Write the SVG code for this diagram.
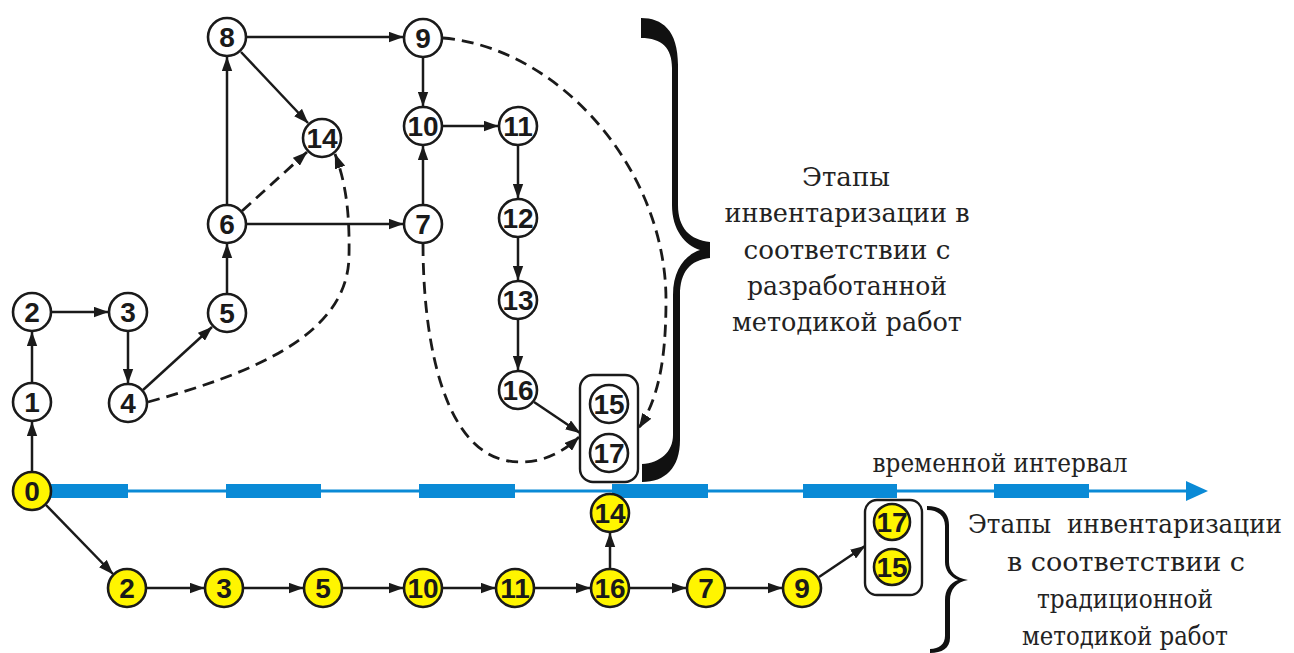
<svg xmlns="http://www.w3.org/2000/svg" width="1294" height="653" viewBox="0 0 1294 653">
  <style>
    .nd circle { fill: #ffffff; stroke: #1a1a1a; stroke-width: 2.6; }
    .nd.y circle { fill: #fff500; }
    .nd text { font-family: "Liberation Sans", Arial, sans-serif; font-weight: bold; font-size: 28px; fill: #1a1a1a; text-anchor: middle; }
    .grp { fill: #ffffff; stroke: #1a1a1a; stroke-width: 2.4; }
    .grp.y { fill: none; }
    .e { fill: none; stroke: #1a1a1a; stroke-width: 2.5; marker-end: url(#ah); }
    .d { stroke-width: 2.8; stroke-dasharray: 12 7; }
    .lbl { font-family: "DejaVu Serif", "Liberation Serif", serif; font-size: 26px; fill: #222222; text-anchor: middle; }
    .axis { stroke: #0a8ad6; }
    .bar { fill: #0a8ad6; }
    .brace { fill: #111111; }
  </style>
  <defs>
    <marker id="ah" viewBox="0 0 14 10" refX="13.5" refY="5" markerWidth="15" markerHeight="11" markerUnits="userSpaceOnUse" orient="auto">
      <path d="M0,0 L14,5 L0,10 z" fill="#1a1a1a"/>
    </marker>
  </defs>

  <!-- time axis -->
  <g id="axis">
    <line class="axis" x1="45" y1="491" x2="1190" y2="491" stroke-width="3"/>
    <rect class="bar" x="50" y="484" width="78" height="14"/>
    <rect class="bar" x="226" y="484" width="95" height="14"/>
    <rect class="bar" x="419" y="484" width="96" height="14"/>
    <rect class="bar" x="612" y="484" width="96" height="14"/>
    <rect class="bar" x="803" y="484" width="94" height="14"/>
    <rect class="bar" x="994" y="484" width="95" height="14"/>
    <polygon class="bar" points="1186,481 1208,491 1186,501"/>
  </g>

  <!-- connectors -->
  <g id="connectors">
    <!-- upper network -->
    <line class="e" x1="32" y1="471" x2="32" y2="422"/>
    <line class="e" x1="32" y1="382" x2="32" y2="332"/>
    <line class="e" x1="52" y1="312" x2="108" y2="312"/>
    <line class="e" x1="128" y1="332" x2="128" y2="383"/>
    <line class="e" x1="143" y1="390" x2="212" y2="327"/>
    <line class="e" x1="227" y1="293" x2="227" y2="244"/>
    <line class="e" x1="227" y1="204" x2="227" y2="57"/>
    <line class="e" x1="247" y1="37" x2="403" y2="37"/>
    <line class="e" x1="241" y1="52" x2="308" y2="123"/>
    <line class="e d" x1="242" y1="211" x2="307" y2="152"/>
    <line class="e" x1="247" y1="224" x2="403" y2="224"/>
    <line class="e" x1="423" y1="57" x2="423" y2="106"/>
    <line class="e" x1="423" y1="204" x2="423" y2="146"/>
    <line class="e" x1="443" y1="126" x2="498" y2="126"/>
    <line class="e" x1="518" y1="146" x2="518" y2="198"/>
    <line class="e" x1="518" y1="238" x2="518" y2="280"/>
    <line class="e" x1="518" y1="320" x2="518" y2="370"/>
    <line class="e" x1="534" y1="402" x2="580" y2="433"/>
    <path class="e d" d="M148,402 C250,374 348,336 349,256 C350,206 344,178 335,154"/>
    <path class="e d" d="M423,244 C423,330 440,462 520,462 C548,462 566,449 579,437"/>
    <path class="e d" d="M443,38 C560,48 666,170 666,300 C666,365 657,400 639,428"/>
    <!-- lower chain -->
    <line class="e" x1="46" y1="505" x2="113" y2="574"/>
    <line class="e" x1="147" y1="588" x2="204" y2="588"/>
    <line class="e" x1="244" y1="588" x2="303" y2="588"/>
    <line class="e" x1="343" y1="588" x2="403" y2="588"/>
    <line class="e" x1="443" y1="588" x2="495" y2="588"/>
    <line class="e" x1="535" y1="588" x2="590" y2="588"/>
    <line class="e" x1="610" y1="568" x2="610" y2="533"/>
    <line class="e" x1="630" y1="588" x2="686" y2="588"/>
    <line class="e" x1="726" y1="588" x2="782" y2="588"/>
    <line class="e" x1="819" y1="577" x2="865" y2="546"/>
  </g>

  <!-- upper network nodes -->
  <g id="n0" class="nd y"><circle cx="32" cy="491" r="19"/><text x="32" y="501">0</text></g>
  <g id="n1" class="nd"><circle cx="32" cy="402" r="19"/><text x="32" y="412">1</text></g>
  <g id="n2" class="nd"><circle cx="32" cy="312" r="19"/><text x="32" y="322">2</text></g>
  <g id="n3" class="nd"><circle cx="128" cy="312" r="19"/><text x="128" y="322">3</text></g>
  <g id="n4" class="nd"><circle cx="128" cy="403" r="19"/><text x="128" y="413">4</text></g>
  <g id="n5" class="nd"><circle cx="227" cy="313" r="19"/><text x="227" y="323">5</text></g>
  <g id="n6" class="nd"><circle cx="227" cy="224" r="19"/><text x="227" y="234">6</text></g>
  <g id="n8" class="nd"><circle cx="227" cy="37" r="19"/><text x="227" y="47">8</text></g>
  <g id="n14" class="nd"><circle cx="322" cy="138" r="19"/><text x="322" y="148">14</text></g>
  <g id="n9" class="nd"><circle cx="423" cy="38" r="19"/><text x="423" y="48">9</text></g>
  <g id="n10" class="nd"><circle cx="423" cy="126" r="19"/><text x="423" y="136">10</text></g>
  <g id="n7" class="nd"><circle cx="423" cy="224" r="19"/><text x="423" y="234">7</text></g>
  <g id="n11" class="nd"><circle cx="518" cy="126" r="19"/><text x="518" y="136">11</text></g>
  <g id="n12" class="nd"><circle cx="518" cy="218" r="19"/><text x="518" y="228">12</text></g>
  <g id="n13" class="nd"><circle cx="518" cy="300" r="19"/><text x="518" y="310">13</text></g>
  <g id="n16" class="nd"><circle cx="518" cy="390" r="19"/><text x="518" y="400">16</text></g>
  <g id="final-a">
    <rect class="grp" x="580" y="375" width="58" height="107" rx="13"/>
    <g id="n15" class="nd"><circle cx="609" cy="404" r="19"/><text x="609" y="414">15</text></g>
    <g id="n17" class="nd"><circle cx="609" cy="453" r="19"/><text x="609" y="463">17</text></g>
  </g>

  <!-- lower chain nodes -->
  <g id="m2" class="nd y"><circle cx="127" cy="588" r="19"/><text x="127" y="598">2</text></g>
  <g id="m3" class="nd y"><circle cx="224" cy="588" r="19"/><text x="224" y="598">3</text></g>
  <g id="m5" class="nd y"><circle cx="323" cy="588" r="19"/><text x="323" y="598">5</text></g>
  <g id="m10" class="nd y"><circle cx="423" cy="588" r="19"/><text x="423" y="598">10</text></g>
  <g id="m11" class="nd y"><circle cx="515" cy="588" r="19"/><text x="515" y="598">11</text></g>
  <g id="m16" class="nd y"><circle cx="610" cy="588" r="19"/><text x="610" y="598">16</text></g>
  <g id="m14" class="nd y"><circle cx="610" cy="513" r="19"/><text x="610" y="523">14</text></g>
  <g id="m7" class="nd y"><circle cx="706" cy="588" r="19"/><text x="706" y="598">7</text></g>
  <g id="m9" class="nd y"><circle cx="802" cy="588" r="19"/><text x="802" y="598">9</text></g>
  <g id="final-b">
    <rect class="grp y" x="865" y="500" width="57" height="95" rx="12"/>
    <g id="m17" class="nd y"><circle cx="892" cy="522" r="18"/><text x="892" y="532">17</text></g>
    <g id="m15" class="nd y"><circle cx="892" cy="567" r="18"/><text x="892" y="577">15</text></g>
  </g>

  <!-- braces -->
  <g id="brace-a">
    <path class="brace" d="M641,18 C662,18 678,30 678,65 L678,205 C678,228 690,240 710,242 L710,258 C690,260 680,272 680,295 L680,440 C680,468 665,482 642,482 L642,464 C660,463 673,452 673,435 L673,295 C673,270 685,255 700,250 C685,245 672,230 672,205 L672,68 C672,48 662,38 641,38 Z"/>
  </g>
  <g id="brace-b">
    <path class="brace" d="M927,506 C940,506 949,512 949,525 L949,562 C949,572 956,578 968,580 C956,582 950,590 950,600 L950,638 C950,648 942,653 930,653 L930,649 C939,649 945,644 945,636 L945,600 C945,590 950,583 958,580 C950,577 945,570 945,562 L945,526 C945,516 938,510 927,510 Z"/>
  </g>

  <!-- labels -->
  <g id="label-new">
    <text class="lbl" x="846" y="186" textLength="88" lengthAdjust="spacingAndGlyphs">Этапы</text>
    <text class="lbl" x="847" y="222" textLength="245" lengthAdjust="spacingAndGlyphs">инвентаризации в</text>
    <text class="lbl" x="847" y="259" textLength="207" lengthAdjust="spacingAndGlyphs">соответствии с</text>
    <text class="lbl" x="847" y="295" textLength="200" lengthAdjust="spacingAndGlyphs">разработанной</text>
    <text class="lbl" x="847" y="331" textLength="230" lengthAdjust="spacingAndGlyphs">методикой работ</text>
  </g>
  <g id="label-axis">
    <text class="lbl" x="1000" y="472" textLength="255" lengthAdjust="spacingAndGlyphs">временной интервал</text>
  </g>
  <g id="label-old">
    <text class="lbl" x="1125" y="533" font-size="25" textLength="314" lengthAdjust="spacingAndGlyphs" xml:space="preserve">Этапы  инвентаризации</text>
    <text class="lbl" x="1126" y="571" textLength="238" lengthAdjust="spacingAndGlyphs">в соответствии с</text>
    <text class="lbl" x="1125" y="608" textLength="176" lengthAdjust="spacingAndGlyphs">традиционной</text>
    <text class="lbl" x="1125" y="645" textLength="206" lengthAdjust="spacingAndGlyphs">методикой работ</text>
  </g>
</svg>
